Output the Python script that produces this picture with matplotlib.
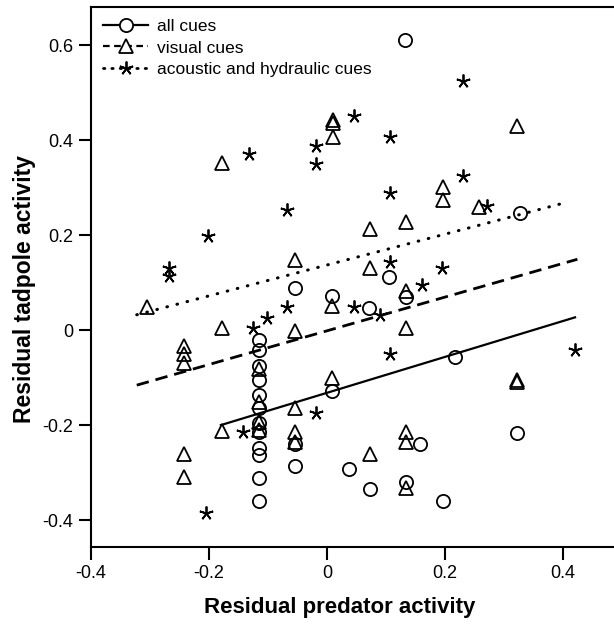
import matplotlib.pyplot as plt
import numpy as np

plt.rcParams['font.family'] = ['Liberation Sans', 'DejaVu Sans']

# all cues (circles)
all_x = [0.132, 0.327, -0.054, 0.008, 0.071, 0.105, 0.134, 0.217, 0.008,
         -0.116, -0.116, -0.116, -0.116, -0.116, -0.116, -0.116, -0.116,
         -0.116, -0.116, -0.116, -0.116,
         -0.054, -0.054, 0.321, 0.157, 0.037, 0.072, 0.134, 0.196]
all_y = [0.611, 0.246, 0.089, 0.072, 0.047, 0.112, 0.070, -0.056, -0.128,
         -0.021, -0.042, -0.075, -0.105, -0.137, -0.165, -0.196, -0.214,
         -0.249, -0.263, -0.312, -0.359,
         -0.239, -0.286, -0.216, -0.239, -0.293, -0.335, -0.319, -0.359]

# visual cues (triangles)
vis_x = [0.010, 0.010, 0.010, -0.178, 0.321, 0.197, 0.196, 0.258, 0.072, 0.134,
         0.072, 0.134, 0.134, 0.321, 0.321, 0.008, -0.305, -0.178, -0.242, -0.242,
         -0.242, -0.054, -0.054, 0.009, -0.116, -0.178, -0.242, -0.242, -0.116, -0.116,
         -0.116, -0.054, -0.054, -0.054, 0.134, 0.134, 0.134, 0.072]
vis_y = [0.442, 0.436, 0.407, 0.351, 0.429, 0.302, 0.274, 0.258, 0.212, 0.228,
         0.130, 0.083, 0.004, -0.105, -0.109, -0.101, 0.049, 0.004, -0.034, -0.051,
         -0.070, 0.147, -0.002, 0.051, -0.081, -0.212, -0.260, -0.309, -0.151, -0.193,
         -0.211, -0.165, -0.214, -0.235, -0.214, -0.235, -0.333, -0.260]

# acoustic and hydraulic cues (asterisks)
ac_x = [-0.133, -0.018, -0.018, 0.045, 0.107, 0.231, 0.107, 0.231, -0.068, -0.202,
        -0.268, -0.268, -0.068, -0.101, -0.125, 0.045, 0.107, 0.194, 0.160, 0.089,
        0.107, 0.420, 0.271, -0.143, -0.018, -0.205]
ac_y = [0.371, 0.388, 0.349, 0.451, 0.407, 0.525, 0.289, 0.324, 0.253, 0.198,
        0.130, 0.114, 0.048, 0.025, 0.004, 0.048, 0.144, 0.130, 0.095, 0.032,
        -0.050, -0.042, 0.261, -0.214, -0.175, -0.385]

# regression lines: (intercept, slope) and x range
fit_all = (-0.132, 0.378)
fit_vis = (-0.0015, 0.355)
fit_ac = (0.137, 0.325)
range_all = (-0.18, 0.42)
range_vis = (-0.3225, 0.424)
range_ac = (-0.3225, 0.395)

fig = plt.figure(figsize=(6.14, 6.25), dpi=100)
ax = fig.add_axes([91 / 614, 78.3 / 625, 523 / 614, 539.7 / 625])

ms = 9.5
mew = 1.3
ax.plot(all_x, all_y, linestyle='none', marker='o', ms=ms, mfc='none', mec='black', mew=mew)
ax.plot(vis_x, vis_y, linestyle='none', marker='^', ms=ms, mfc='none', mec='black', mew=mew)
ax.plot(ac_x, ac_y, linestyle='none', marker=(5, 2, 0), ms=ms + 0.5, mec='black', mew=mew)

# regression lines
xs = np.array(range_all)
ax.plot(xs, fit_all[0] + fit_all[1] * xs, color='black', lw=1.6, linestyle='-')
xs = np.array(range_vis)
ax.plot(xs, fit_vis[0] + fit_vis[1] * xs, color='black', lw=2.0, linestyle=(0, (4.5, 2.5)))
xs = np.array(range_ac)
ax.plot(xs, fit_ac[0] + fit_ac[1] * xs, color='black', lw=2.2, linestyle=(0, (0.2, 3.2)),
        dash_capstyle='round')

# legend handles
h1, = ax.plot([], [], color='black', lw=1.6, marker='o', ms=ms, mfc='white', mec='black', mew=mew, label='all cues')
h2, = ax.plot([], [], color='black', lw=1.6, ls=(0, (3, 2)), marker='^', ms=ms, mfc='white', mec='black', mew=mew, label='visual cues')
h3, = ax.plot([], [], color='black', lw=2.0, ls=(0, (0.5, 2.5)), dash_capstyle='round', marker=(5, 2, 0),
              ms=ms + 0.5, mec='black', mew=mew, label='acoustic and hydraulic cues')
ax.legend(handles=[h1, h2, h3], loc='upper left', bbox_to_anchor=(0.0, 1.0), frameon=False,
          fontsize=12.5, handlelength=2.6, handletextpad=0.5, labelspacing=0.35,
          borderaxespad=0.3, numpoints=1)

ax.set_xlim(-0.4, 0.486)
ax.set_ylim(-0.456, 0.68)
ax.set_xticks([-0.4, -0.2, 0, 0.2, 0.4])
ax.set_xticklabels(['-0.4', '-0.2', '0', '0.2', '0.4'])
ax.set_yticks([-0.4, -0.2, 0, 0.2, 0.4, 0.6])
ax.set_yticklabels(['-0.4', '-0.2', '0', '0.2', '0.4', '0.6'])
ax.tick_params(direction='out', length=9, width=1.5, labelsize=13, pad=4)
for s in ['left', 'bottom', 'top']:
    ax.spines[s].set_linewidth(1.5)
ax.spines['right'].set_visible(False)

fig.text(340 / 614, 1 - 607 / 625, 'Residual predator activity', ha='center', va='center',
         fontsize=16, fontweight='bold')
fig.text(25 / 614, 1 - 289 / 625, 'Residual tadpole activity', ha='center', va='center',
         rotation=90, fontsize=16.5, fontweight='bold')

fig.savefig('out.png', dpi=100)
